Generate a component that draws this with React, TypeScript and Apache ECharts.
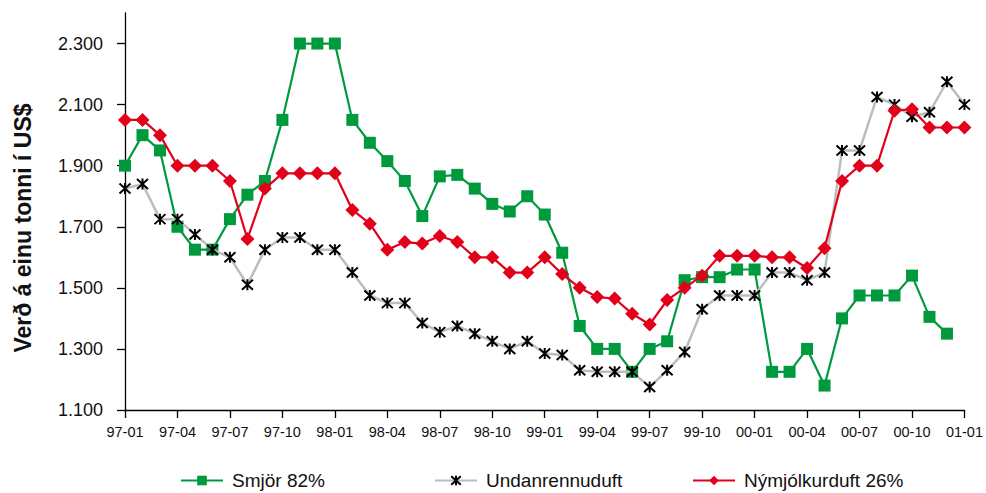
import React, { useEffect, useRef } from "react";
import * as echarts from "echarts";

const months: string[] = [
  "97-01","97-02","97-03","97-04","97-05","97-06","97-07","97-08","97-09","97-10","97-11","97-12",
  "98-01","98-02","98-03","98-04","98-05","98-06","98-07","98-08","98-09","98-10","98-11","98-12",
  "99-01","99-02","99-03","99-04","99-05","99-06","99-07","99-08","99-09","99-10","99-11","99-12",
  "00-01","00-02","00-03","00-04","00-05","00-06","00-07","00-08","00-09","00-10","00-11","00-12",
  "01-01",
];

const smjor: (number | null)[] = [
  1900, 2000, 1950, 1700, 1625, 1625, 1725, 1805, 1850, 2050, 2300, 2300,
  2300, 2050, 1975, 1915, 1850, 1735, 1865, 1870, 1825, 1775, 1750, 1800,
  1740, 1615, 1375, 1300, 1300, 1225, 1300, 1325, 1525, 1535, 1535, 1560,
  1560, 1225, 1225, 1300, 1180, 1400, 1475, 1475, 1475, 1540, 1405, 1350,
  null,
];

const undanrennuduft: number[] = [
  1825, 1840, 1725, 1725, 1675, 1625, 1600, 1510, 1625, 1665, 1665, 1625,
  1625, 1550, 1475, 1450, 1450, 1385, 1355, 1375, 1350, 1325, 1300, 1325,
  1285, 1280, 1230, 1225, 1225, 1225, 1175, 1230, 1290, 1430, 1475, 1475,
  1475, 1550, 1550, 1525, 1550, 1950, 1950, 2125, 2100, 2060, 2075, 2175,
  2100,
];

const nymjolkurduft: number[] = [
  2050, 2050, 2000, 1900, 1900, 1900, 1850, 1660, 1825, 1875, 1875, 1875,
  1875, 1755, 1710, 1625, 1650, 1645, 1670, 1650, 1600, 1600, 1550, 1550,
  1600, 1545, 1500, 1470, 1465, 1415, 1380, 1460, 1500, 1540, 1605, 1605,
  1605, 1600, 1600, 1565, 1630, 1850, 1900, 1900, 2080, 2085, 2025, 2025,
  2025,
];

const yTicks: number[] = [1100, 1300, 1500, 1700, 1900, 2100, 2300];

const seriesNames = ["Smjör 82%", "Undanrennuduft", "Nýmjólkurduft 26%"];
const yTitle = "Verð á einu tonni í US$";

const FONT = "'Liberation Sans', Arial, sans-serif";
const GREEN = "#009a3e";
const RED = "#e2001a";
const GREY = "#bdbdbd";
const STAR = "path://M0,0L10,10M10,0L0,10M5,-0.5L5,10.5";

const fmt = (v: number) => {
  const s = String(Math.round(v));
  return s.length > 3 ? s.slice(0, s.length - 3) + "." + s.slice(s.length - 3) : s;
};

export default function App() {
  const ref = useRef<HTMLDivElement>(null);

  useEffect(() => {
    document.body.style.margin = "0";
    if (!ref.current) return;
    const chart = echarts.init(ref.current, null, { renderer: "svg" });
    const legendBase = {
      top: 466,
      itemWidth: 42,
      itemHeight: 12,
      textStyle: { fontFamily: FONT, fontSize: 19, color: "#111", padding: [0, 0, 0, 4] },
    };
    chart.setOption({
      animation: false,
      backgroundColor: "#ffffff",
      textStyle: { fontFamily: FONT },
      grid: { left: 125, right: 19, top: 13, bottom: 83, containLabel: false },
      legend: [
        { ...legendBase, left: 175, data: [seriesNames[0]] },
        { ...legendBase, left: 429, data: [seriesNames[1]] },
        { ...legendBase, left: 687, data: [seriesNames[2]] },
      ],
      graphic: [
        {
          type: "text",
          x: 23,
          y: 228,
          rotation: Math.PI / 2,
          style: {
            text: yTitle,
            fontFamily: FONT,
            fontWeight: "bold",
            fontSize: 23,
            fill: "#111",
            textAlign: "center",
            textVerticalAlign: "middle",
          },
        },
      ],
      xAxis: {
        type: "category",
        data: months,
        boundaryGap: false,
        axisLine: { lineStyle: { color: "#000", width: 1.3 } },
        axisTick: { show: true, interval: 2, length: 8, lineStyle: { color: "#000", width: 1.3 } },
        axisLabel: {
          interval: 2,
          margin: 14,
          fontFamily: FONT,
          fontSize: 14.5,
          color: "#111",
          showMaxLabel: true,
        },
        splitLine: { show: false },
      },
      yAxis: {
        type: "value",
        min: 1100,
        max: 2400,
        interval: 100,
        axisLine: { show: true, lineStyle: { color: "#000", width: 1.3 } },
        axisTick: {
          show: true,
          length: 8,
          customValues: yTicks,
          lineStyle: { color: "#000", width: 1.3 },
        },
        axisLabel: {
          customValues: yTicks,
          margin: 22,
          fontFamily: FONT,
          fontSize: 18,
          color: "#111",
          formatter: (v: number) => fmt(v),
        },
        splitLine: { show: false },
      },
      series: [
        {
          name: seriesNames[0],
          type: "line",
          data: smjor,
          symbol: "rect",
          symbolSize: 12,
          showAllSymbol: true,
          lineStyle: { color: GREEN, width: 2.2 },
          itemStyle: { color: GREEN },
          z: 2,
        },
        {
          name: seriesNames[1],
          type: "line",
          data: undanrennuduft,
          symbol: STAR,
          symbolSize: 11,
          showAllSymbol: true,
          lineStyle: { color: GREY, width: 2.5 },
          itemStyle: { color: "#000", borderColor: "#000", borderWidth: 2 },
          z: 3,
        },
        {
          name: seriesNames[2],
          type: "line",
          data: nymjolkurduft,
          symbol: "diamond",
          symbolSize: 14,
          showAllSymbol: true,
          lineStyle: { color: RED, width: 2.2 },
          itemStyle: { color: RED },
          z: 4,
        },
      ],
    });
    return () => chart.dispose();
  }, []);

  return <div ref={ref} style={{ width: 986, height: 493 }} />;
}
